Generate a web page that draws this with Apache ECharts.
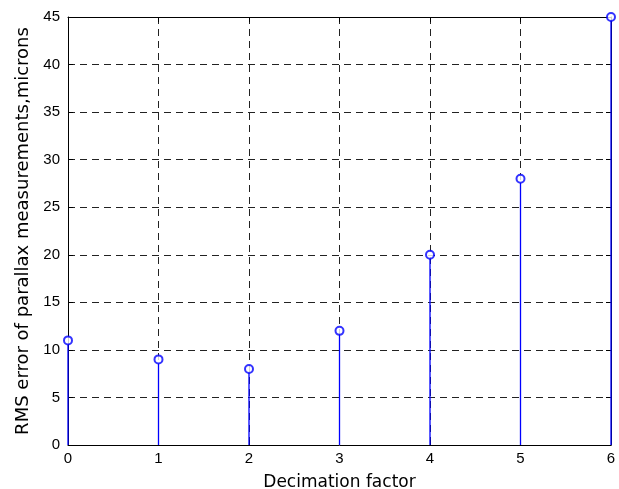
<!DOCTYPE html>
<html>
<head>
<meta charset="utf-8">
<script src="https://cdn.jsdelivr.net/npm/echarts@6/dist/echarts.min.js"></script>
<style>html,body{margin:0;padding:0;background:#fff;}#c{width:619px;height:489px;}</style>
</head>
<body>
<div id="c"></div>
<script>
var decimation = [0, 1, 2, 3, 4, 5, 6];
var rmsError = [11, 9, 8, 12, 20, 28, 45];
var xTitle = 'Decimation factor';
var yTitle = 'RMS error of parallax measurements,microns';

var pts = decimation.map(function (d, i) { return [d, rmsError[i]]; });
var tickFont = 'Liberation Sans, Arial, Helvetica, sans-serif';
var titleFont = 'DejaVu Sans, Liberation Sans, sans-serif';
var chart = echarts.init(document.getElementById('c'), null, {renderer: 'canvas'});

function axisCommon(show) {
  return {
    axisLine: {show: true, onZero: false, lineStyle: {color: '#000', width: 1}},
    axisTick: {show: true, inside: true, length: 5, lineStyle: {color: '#000'}},
    axisLabel: {show: show, color: '#000', fontSize: 15, fontFamily: tickFont},
    splitLine: {show: false}
  };
}
var dash = {show: true, lineStyle: {color: '#222', type: [7, 5], width: 1}};

var xMain = Object.assign(axisCommon(true), {
  type: 'value', min: 0, max: 6, interval: 1, position: 'bottom',
  name: xTitle, nameLocation: 'middle', nameGap: 29,
  nameTextStyle: {color: '#000', fontSize: 17, fontFamily: titleFont},
  splitLine: dash
});
xMain.axisLabel.margin = 6;
var xTop = Object.assign(axisCommon(false), {type: 'value', min: 0, max: 6, interval: 1, position: 'top'});

var yMain = Object.assign(axisCommon(true), {
  type: 'value', min: 0, max: 45, interval: 5, position: 'left',
  name: yTitle, nameLocation: 'middle', nameGap: 33,
  nameTextStyle: {color: '#000', fontSize: 18, fontFamily: titleFont},
  splitLine: dash
});
yMain.axisLabel.margin = 8;
var yRight = Object.assign(axisCommon(false), {type: 'value', min: 0, max: 45, interval: 5, position: 'right'});

chart.setOption({
  animation: false,
  backgroundColor: '#fff',
  grid: {left: 68, right: 8, top: 17, bottom: 44, containLabel: false, outerBoundsMode: 'none'},
  xAxis: [xMain, xTop],
  yAxis: [yMain, yRight],
  series: [
    {
      type: 'custom',
      xAxisIndex: 0, yAxisIndex: 0,
      data: pts,
      clip: false,
      renderItem: function (params, api) {
        var top = api.coord([api.value(0), api.value(1)]);
        var base = api.coord([api.value(0), 0]);
        return {
          type: 'line',
          shape: {x1: top[0], y1: top[1] + 4, x2: base[0], y2: base[1]},
          style: {stroke: '#0000ff', lineWidth: 1.3}
        };
      },
      z: 5
    },
    {
      type: 'scatter',
      xAxisIndex: 0, yAxisIndex: 0,
      data: pts,
      clip: false,
      symbol: 'emptyCircle',
      symbolSize: 8,
      itemStyle: {color: '#0000ff', borderColor: '#0000ff', borderWidth: 1},
      z: 6
    }
  ]
});
</script>
</body>
</html>
